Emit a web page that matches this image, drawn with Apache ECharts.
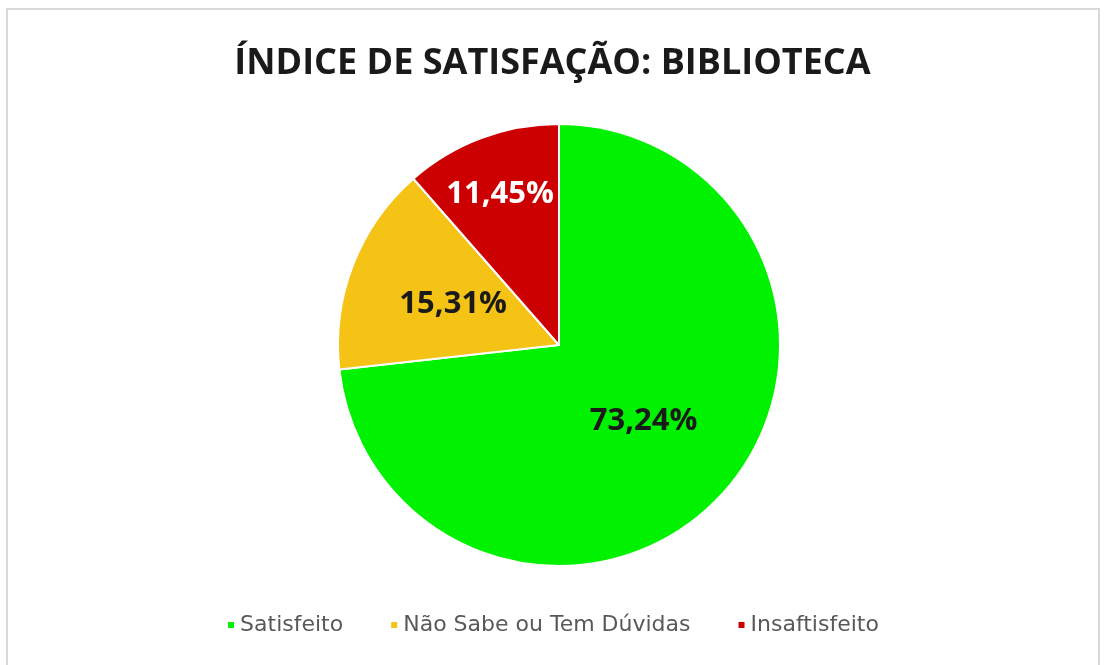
<!DOCTYPE html>
<html>
<head>
<meta charset="utf-8">
<script src="https://cdn.jsdelivr.net/npm/echarts@6/dist/echarts.min.js"></script>
<style>
  html, body { margin: 0; padding: 0; background: #fff; }
  #chart { width: 1105px; height: 665px; }
</style>
</head>
<body>
<div id="chart"></div>
<script>
// Chart data
var categories = ['Satisfeito', 'Não Sabe ou Tem Dúvidas', 'Insaftisfeito'];
var values = [73.24, 15.31, 11.45];
var colors = ['#00F200', '#F5C315', '#CC0000'];
var labelColors = ['#1a1a1a', '#1a1a1a', '#ffffff'];

var chart = echarts.init(document.getElementById('chart'));

var pieData = categories.map(function (name, i) {
    return {
        name: name,
        value: values[i],
        itemStyle: { color: colors[i] },
        label: { color: labelColors[i] }
    };
});

chart.setOption({
    animation: false,
    // chart frame
    graphic: [{
        type: 'rect',
        shape: { x: 7, y: 9, width: 1092, height: 680 },
        style: { fill: 'none', stroke: '#d9d9d9', lineWidth: 2 },
        silent: true
    }],
    title: {
        text: 'ÍNDICE DE SATISFAÇÃO: BIBLIOTECA',
        left: 'center',
        top: 41,
        textStyle: {
            fontFamily: 'Open Sans',
            fontWeight: 'bold',
            fontSize: 36,
            color: '#1a1a1a'
        }
    },
    legend: {
        bottom: 24,
        left: 'center',
        icon: 'rect',
        itemWidth: 8,
        itemHeight: 8,
        itemGap: 46,
        data: categories,
        textStyle: {
            fontFamily: 'DejaVu Sans',
            fontSize: 22,
            color: '#595959'
        }
    },
    series: [{
        type: 'pie',
        center: [559, 345],
        radius: 221,
        startAngle: 90,
        clockwise: true,
        data: pieData,
        itemStyle: { borderColor: '#ffffff', borderWidth: 2 },
        label: {
            show: true,
            position: 'inside',
            fontFamily: 'Open Sans',
            fontWeight: 'bold',
            fontSize: 31,
            formatter: function (p) {
                return p.value.toFixed(2).replace('.', ',') + '%';
            }
        },
        labelLayout: function (params) {
            // red label sits further out in the reference
            if (params.dataIndex === 2) {
                return { dx: -19, dy: -45 };
            }
        },
        labelLine: { show: false },
        emphasis: { disabled: true }
    }]
});
</script>
</body>
</html>
